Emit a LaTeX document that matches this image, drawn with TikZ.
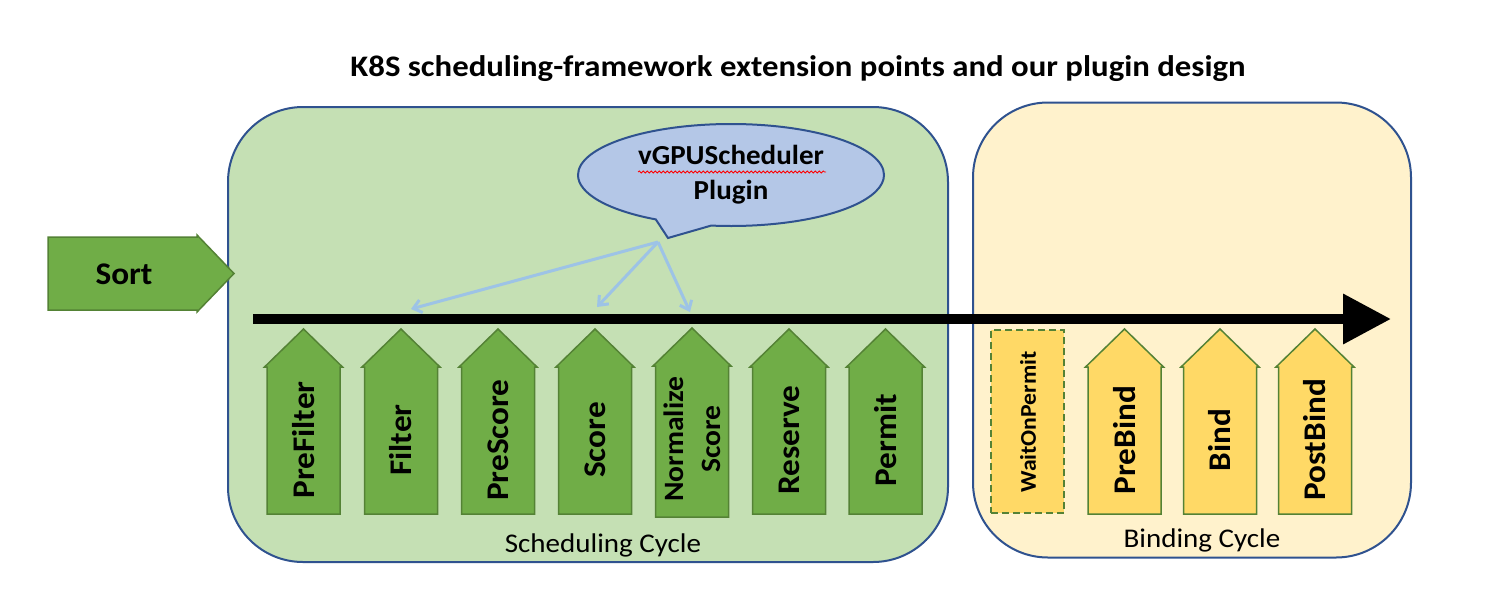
\documentclass[tikz,border=0pt]{standalone}
\usepackage{fontspec}
\setmainfont{Carlito}[FakeStretch=1.055]
\newfontfamily\titlefont{Carlito}[FakeStretch=1.10]
\newfontfamily\cyclefont{Carlito}[FakeStretch=1.075]
\usetikzlibrary{arrows.meta,shapes.callouts,decorations.pathmorphing}
\definecolor{schedfill}{HTML}{C5E0B4}
\definecolor{bindfill}{HTML}{FFF2CC}
\definecolor{frameblue}{HTML}{2F528F}
\definecolor{stepgreen}{HTML}{70AD47}
\definecolor{stepedge}{HTML}{548235}
\definecolor{stepyellow}{HTML}{FFD966}
\definecolor{calloutfill}{HTML}{B4C7E7}
\definecolor{pointblue}{HTML}{9DC3E6}
% #1 name, #2 centre x, #3 fill, #4 text, #5 bottom y
\newcommand\extpt[5]{%
  \draw[arrowbox, fill=#3] (#2-36.5,#5) -- (#2-36.5,367) -- (#2-39,367) -- (#2,329)
     -- (#2+39,367) -- (#2+36.5,367) -- (#2+36.5,#5) -- cycle;
  \node[steplabel, rotate=90] (#1) at (#2,440) {#4};
}
\begin{document}
\begin{tikzpicture}[x=1pt,y=-1pt,
  cyclebox/.style={draw=frameblue, line width=2pt, rounded corners=75pt, inner sep=0pt},
  arrowbox/.style={draw=stepedge, line width=1.5pt},
  steplabel/.style={font=\fontsize{31.5}{36}\selectfont\bfseries, inner sep=0pt},
  cyclelabel/.style={font=\cyclefont\fontsize{27}{32}\selectfont, anchor=base, inner sep=0pt},
  hint/.style={draw=pointblue, line width=3pt, -{Straight Barb[length=8pt,width=13pt]}},
]
\fill[white] (0,0) rectangle (1486,611);
\useasboundingbox (0,0) rectangle (1486,611);

% title
\node[anchor=base, inner sep=0pt, font=\titlefont\fontsize{29.8}{34}\selectfont\bfseries] (title) at (798,76)
  {K8S scheduling-framework extension points and our plugin design};

% cycles
\node[cyclebox, fill=schedfill, minimum width=720, minimum height=455] (sched) at (588,334.5) {};
\node[cyclebox, fill=bindfill, minimum width=438, minimum height=455] (bind) at (1192,330) {};
\node[cyclelabel] (schedlabel) at (603,552) {Scheduling Cycle};
\node[cyclelabel] (bindlabel) at (1202,547) {Binding Cycle};

% sort
\draw[arrowbox, fill=stepgreen] (48,237) -- (197,237) -- (197,235) -- (234,273.5)
   -- (197,312) -- (197,310) -- (48,310) -- cycle;
\node[steplabel] (sort) at (124,274) {Sort};

% main flow arrow
\coordinate (flowstart) at (253,319);
\coordinate (flowend) at (1391,319);
\draw[line width=10pt, -{Triangle[length=48pt,width=48pt]}] (flowstart) -- (flowend);

% plugin hints
\coordinate (hub) at (658,242);
\coordinate (tfilter) at (411,309);
\coordinate (tscore) at (597,307);
\coordinate (tnorm) at (690,312);
\draw[hint] (hub) -- (tfilter);
\draw[hint] (hub) -- (tscore);
\draw[hint] (hub) -- (tnorm);

% callout
\node[ellipse callout, draw=frameblue, line width=2pt, fill=calloutfill,
      minimum width=306, minimum height=102, inner sep=0pt,
      callout absolute pointer={(668,238)}, callout pointer arc=22,
      align=center, font=\fontsize{27.5}{35}\selectfont\bfseries] (plugin) at (731,175)
  {vGPUScheduler\\Plugin};
\draw[red, line width=0.8pt, decorate, decoration={snake, amplitude=1pt, segment length=4pt}]
  (638,172) -- (826,172);

% scheduling extension points
\extpt{prefilter}{303.5}{stepgreen}{PreFilter}{514}
\extpt{filter}{401}{stepgreen}{Filter}{514}
\extpt{prescore}{498}{stepgreen}{PreScore}{514}
\extpt{score}{595}{stepgreen}{Score}{514}
\draw[arrowbox, fill=stepgreen] (692-36.5,517) -- (692-36.5,366) -- (692-39,366) -- (692,328)
   -- (692+39,366) -- (692+36.5,366) -- (692+36.5,517) -- cycle;
\node[rotate=90, align=center, inner sep=0pt, font=\fontsize{28}{37}\selectfont\bfseries]
  (normalize) at (692,439) {Normalize\\Score};
\extpt{reserve}{789}{stepgreen}{Reserve}{514}
\extpt{permit}{885.5}{stepgreen}{Permit}{514}

% binding extension points
\node[draw=stepedge, dash pattern=on 7pt off 4pt, line width=1.5pt, fill=stepyellow,
      minimum width=73, minimum height=183, inner sep=0pt] (waitbox) at (1027.5,421.5) {};
\node[rotate=90, inner sep=0pt, font=\fontsize{22.5}{26}\selectfont\bfseries] (wait) at (1028,422) {WaitOnPermit};
\extpt{prebind}{1124.5}{stepyellow}{PreBind}{514}
\extpt{bindpt}{1220}{stepyellow}{Bind}{514}
\extpt{postbind}{1315}{stepyellow}{PostBind}{514}
\end{tikzpicture}
\end{document}
